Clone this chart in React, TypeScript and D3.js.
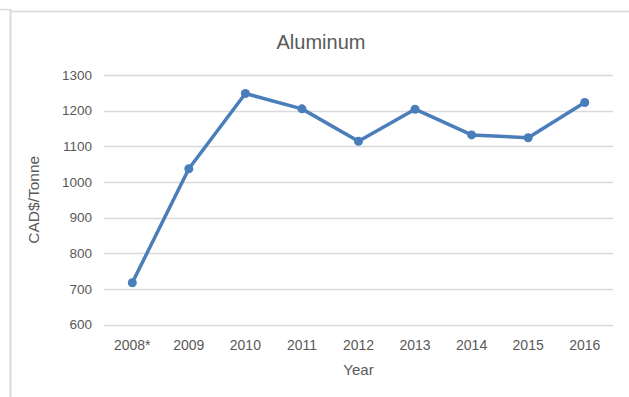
import React from "react";
import * as d3 from "d3";

const years = ["2008*", "2009", "2010", "2011", "2012", "2013", "2014", "2015", "2016"];
const prices = [717, 1037, 1248, 1205, 1114, 1204, 1132, 1124, 1223];
const yTicks = [600, 700, 800, 900, 1000, 1100, 1200, 1300];

const W = 629;
const H = 397;
const margin = { top: 75, right: 16, bottom: 72.5, left: 104 };
const font = "'Liberation Sans', Arial, sans-serif";
const textColor = "#595959";
const blue = "#4a7ebb";

const App = () => {
  const x = d3
    .scaleBand()
    .domain(years)
    .range([margin.left, W - margin.right]);
  const y = d3
    .scaleLinear()
    .domain([600, 1300])
    .range([H - margin.bottom, margin.top]);

  const data = years.map((yr, i) => ({ yr, v: prices[i] }));
  const line = d3
    .line<{ yr: string; v: number }>()
    .x((d) => (x(d.yr) ?? 0) + x.bandwidth() / 2)
    .y((d) => y(d.v));

  const plotMid = (margin.left + W - margin.right) / 2;

  return (
    <div style={{ position: "fixed", left: 0, top: 0 }}>
      <svg width={W} height={H} style={{ display: "block", background: "#fff" }}>
        {/* frame */}
        <line x1={0} x2={10} y1={9.5} y2={9.5} stroke="#d9d9d9" strokeWidth={1.5} />
        <line x1={10.5} x2={10.5} y1={9} y2={H} stroke="#d9d9d9" strokeWidth={2} />
        <line x1={11} x2={W} y1={11.5} y2={11.5} stroke="#d9d9d9" strokeWidth={1.5} />

        {/* title */}
        <text x={321} y={49} textAnchor="middle" fontFamily={font} fontSize={20} fill={textColor}>
          Aluminum
        </text>

        {/* gridlines + y ticks */}
        {yTicks.map((t) => (
          <g key={t}>
            <line
              x1={margin.left}
              x2={W - margin.right}
              y1={Math.round(y(t)) + 0.5}
              y2={Math.round(y(t)) + 0.5}
              stroke="#d9d9d9"
              strokeWidth={1.3}
            />
            <text
              x={92}
              y={y(t)}
              dy="0.35em"
              textAnchor="end"
              fontFamily={font}
              fontSize={13.5}
              fill={textColor}
            >
              {t}
            </text>
          </g>
        ))}

        {/* x ticks */}
        {years.map((yr) => (
          <text
            key={yr}
            x={(x(yr) ?? 0) + x.bandwidth() / 2}
            y={345}
            dy="0.35em"
            textAnchor="middle"
            fontFamily={font}
            fontSize={14}
            fill={textColor}
          >
            {yr}
          </text>
        ))}

        {/* axis titles */}
        <text x={plotMid} y={370} dy="0.35em" textAnchor="middle" fontFamily={font} fontSize={15} fill={textColor}>
          Year
        </text>
        <text
          transform={`translate(34,${(margin.top + H - margin.bottom) / 2}) rotate(-90)`}
          dy="0.35em"
          textAnchor="middle"
          fontFamily={font}
          fontSize={15.5}
          fill={textColor}
        >
          CAD$/Tonne
        </text>

        {/* series */}
        <path d={line(data) ?? ""} fill="none" stroke={blue} strokeWidth={3.5} strokeLinejoin="round" />
        {data.map((d) => (
          <circle
            key={d.yr}
            cx={(x(d.yr) ?? 0) + x.bandwidth() / 2}
            cy={y(d.v)}
            r={4.5}
            fill={blue}
          />
        ))}
      </svg>
    </div>
  );
};

export default App;
